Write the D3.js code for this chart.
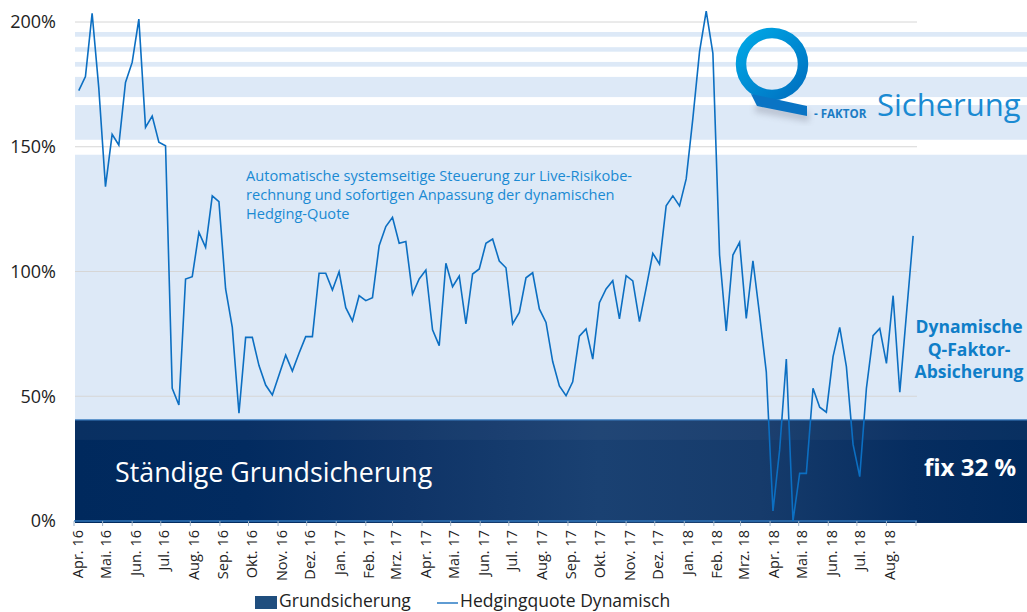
<!DOCTYPE html>
<html><head><meta charset="utf-8">
<script src="https://cdn.jsdelivr.net/npm/d3@7"></script>
<style>body{margin:0;background:#fff}svg{display:block}</style>
</head><body>
<svg id="c" width="1027" height="612"></svg>
<script>
// ---------- data ----------
const startDate = "2016-04-06";           // first weekly observation
const hedgingQuote = [
 172.5,178.1,203.5,173.5,134.0,155.0,150.7,175.8,183.8,201.2,
 157.8,162.3,151.8,150.4,53.2,46.5,97.0,97.9,115.7,109.7,
 130.3,128.0,93.0,77.6,43.2,73.6,73.6,62.3,54.5,50.5,
 58.5,66.5,60.1,67.2,73.9,73.9,99.3,99.3,92.6,99.9,
 85.5,80.2,90.3,88.3,89.5,110.3,118.0,121.7,111.3,112.0,
 91.0,97.0,100.6,76.6,70.3,103.3,93.9,98.2,79.0,99.0,
 101.0,111.3,113.0,104.2,101.5,79.0,83.6,97.5,99.5,85.0,
 79.6,63.9,54.1,50.2,55.8,74.1,77.0,64.9,87.5,93.0,
 96.3,81.0,98.3,96.2,79.9,93.3,107.3,103.0,126.3,130.3,
 126.3,137.1,161.4,188.1,204.4,187.4,106.6,76.2,106.6,111.7,
 81.2,104.3,82.6,59.8,4.0,28.5,64.9,0.0,19.1,19.1,
 53.2,45.6,43.6,65.9,77.6,61.9,30.7,17.8,53.2,74.3,
 77.2,63.2,90.3,51.6,83.0,114.3
];
const grundsicherung = 40.5;               // height of the constant base area
const yTicks = [0, 50, 100, 150, 200];
const monthLabels = ["Jan.","Feb.","Mrz.","Apr.","Mai.","Jun.","Jul.","Aug.","Sep.","Okt.","Nov.","Dez."];
const bandRanges = [[194.1,196.0],[188.1,189.9],[182.1,184.0],[169.9,178.0],[152.8,166.7],[40.5,146.8]];
const seriesNames = ["Grundsicherung","Hedgingquote Dynamisch"];
const annotation = ["Automatische systemseitige Steuerung zur Live-Risikobe-",
                    "rechnung und sofortigen Anpassung der dynamischen",
                    "Hedging-Quote"];
const sideLabel = ["Dynamische","Q-Faktor-","Absicherung"];

// ---------- setup ----------
const svg = d3.select("#c");
const W = 1027;
const parse = d3.timeParse("%Y-%m-%d");
const t0 = parse(startDate);
const data = hedgingQuote.map((v,i)=>({date:d3.timeDay.offset(t0,7*i), v}));

const x = d3.scaleTime().domain([new Date(2016,3,1), new Date(2018,8,1)]).range([74,916]);
const y = d3.scaleLinear().domain([0,200]).range([521,22]);
const plotL = 74, plotR = 917;
const FONT = "'Open Sans', 'Noto Sans', sans-serif";

const defs = svg.append("defs");
const g1 = defs.append("linearGradient").attr("id","dark").attr("x1","0").attr("x2","1").attr("y1","0").attr("y2","0");
[[0,"#00295d"],[0.18,"#022b60"],[0.35,"#0f3467"],[0.55,"#1a4172"],[0.72,"#163b6b"],[0.88,"#062d60"],[1,"#00295c"]]
  .forEach(([o,c])=>g1.append("stop").attr("offset",o).attr("stop-color",c));
const g2 = defs.append("linearGradient").attr("id","qgrad").attr("x1","0").attr("x2","1").attr("y1","0").attr("y2","1");
g2.append("stop").attr("offset",0).attr("stop-color","#00a8e6");
g2.append("stop").attr("offset",1).attr("stop-color","#0070c0");
const blur = defs.append("filter").attr("id","sh").attr("x","-20%").attr("y","-20%").attr("width","140%").attr("height","140%");
blur.append("feGaussianBlur").attr("stdDeviation",3);

// background bands
svg.append("g").selectAll("rect").data(bandRanges).join("rect")
  .attr("x",plotL+1).attr("width",W-plotL-1)
  .attr("y",d=>y(d[1])).attr("height",d=>y(d[0])-y(d[1]))
  .attr("fill","#dde9f7");

// gridlines
svg.append("g").selectAll("line").data(yTicks.filter(d=>d>0)).join("line")
  .attr("x1",plotL+1).attr("x2",plotR).attr("y1",d=>y(d)).attr("y2",d=>y(d))
  .attr("stroke","#d6d6d6").attr("stroke-width",1);

// Grundsicherung area
svg.append("rect").attr("x",plotL+1).attr("width",W-plotL-1)
  .attr("y",y(grundsicherung)).attr("height",y(0)-y(grundsicherung)+2)
  .attr("fill","url(#dark)");
svg.append("rect").attr("x",plotL+1).attr("width",W-plotL-1)
  .attr("y",y(grundsicherung)).attr("height",20)
  .attr("fill","#8090a8").attr("opacity",0.07);
svg.append("line").attr("x1",plotL+1).attr("x2",W).attr("y1",y(grundsicherung)).attr("y2",y(grundsicherung))
  .attr("stroke","#3d7fc2").attr("stroke-width",1.2);

// x axis
const months = d3.timeMonth.range(new Date(2016,3,1), new Date(2018,8,2));
const ax = svg.append("g");
ax.append("line").attr("x1",plotL).attr("x2",plotR).attr("y1",y(0)).attr("y2",y(0))
  .attr("stroke","#2f74b8").attr("stroke-width",1.5);
ax.selectAll("line.t").data(months).join("line").attr("class","t")
  .attr("x1",d=>x(d)).attr("x2",d=>x(d)).attr("y1",y(0)).attr("y2",y(0)+5)
  .attr("stroke","#9fb3c8").attr("stroke-width",1);
ax.selectAll("text").data(months.slice(0,-1)).join("text")
  .attr("transform",d=>`translate(${x(d)+3},${y(0)+9}) rotate(-90)`)
  .attr("text-anchor","end").attr("dominant-baseline","central")
  .attr("font-family",FONT).attr("font-size",14.5).attr("fill","#222")
  .text(d=>monthLabels[d.getMonth()]+" "+String(d.getFullYear()).slice(2));

// y labels
svg.append("g").selectAll("text").data(yTicks).join("text")
  .attr("x",56).attr("y",d=>y(d)).attr("dy","0.36em").attr("text-anchor","end")
  .attr("font-family",FONT).attr("font-size",18).attr("fill","#222")
  .text(d=>d+"%");

// line
svg.append("path").datum(data)
  .attr("d",d3.line().x(d=>x(d.date)).y(d=>y(d.v)))
  .attr("fill","none").attr("stroke","#0c6fc2").attr("stroke-width",1.6).attr("stroke-linejoin","miter");

// annotation text
svg.append("text").attr("font-family",FONT).attr("font-size",14.6).attr("fill","#1a8ad3")
  .selectAll("tspan").data(annotation).join("tspan")
  .attr("x",246).attr("y",(d,i)=>181+i*19).text(d=>d);

svg.append("text").attr("font-family",FONT).attr("font-size",17.5).attr("font-weight","bold")
  .attr("fill","#0f7ec8").attr("text-anchor","middle")
  .selectAll("tspan").data(sideLabel).join("tspan")
  .attr("x",969).attr("y",(d,i)=>333+i*22.5).text(d=>d);

svg.append("text").attr("x",115).attr("y",482).attr("font-family",FONT)
  .attr("font-size",26.8).attr("fill","#fff").text("Ständige Grundsicherung");
svg.append("text").attr("x",970).attr("y",476).attr("text-anchor","middle").attr("font-family",FONT)
  .attr("font-size",24).attr("font-weight","bold").attr("fill","#fff").text("fix 32 %");

// Q logo
const lg = svg.append("g");
lg.append("path").attr("d","M755,99 L807,108 L807,118 L752,108 Z").attr("fill","#556").attr("opacity",0.25).attr("filter","url(#sh)").attr("transform","translate(2,4)");
lg.append("circle").attr("cx",772).attr("cy",64).attr("r",31).attr("fill","none")
  .attr("stroke","url(#qgrad)").attr("stroke-width",10.5);
lg.append("path").attr("d","M751,94 L807,106 L807,116 L757,106 Z").attr("fill","#0a74c4");
svg.append("text").attr("x",814).attr("y",118).attr("font-family",FONT)
  .attr("font-size",11.6).attr("font-weight","bold").attr("fill","#1b7cc4").text("- FAKTOR");
svg.append("text").attr("x",877).attr("y",116).attr("font-family",FONT)
  .attr("font-size",31).attr("fill","#1a8ad2").text("Sicherung");

// legend
const lgd = svg.append("g").attr("font-family",FONT).attr("font-size",17.5).attr("fill","#222");
lgd.append("rect").attr("x",255).attr("y",596).attr("width",22).attr("height",13).attr("fill","#1f4e7e");
lgd.append("text").attr("x",279).attr("y",607).text(seriesNames[0]);
lgd.append("line").attr("x1",437).attr("x2",458).attr("y1",603).attr("y2",603).attr("stroke","#2a7bc4").attr("stroke-width",1.5);
lgd.append("text").attr("x",460).attr("y",607).text(seriesNames[1]);
</script>
</body></html>
